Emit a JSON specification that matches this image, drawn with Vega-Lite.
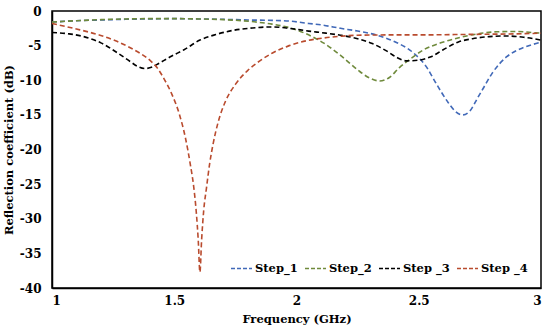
{
  "$schema": "https://vega.github.io/schema/vega-lite/v6.json",
  "width": 489,
  "height": 277,
  "autosize": "none",
  "padding": {"left": 52, "top": 11, "right": 9, "bottom": 46},
  "background": "white",
  "config": {
    "view": {"stroke": "black", "strokeWidth": 1.5},
    "font": "DejaVu Serif",
    "axis": {"labelFont": "DejaVu Serif", "titleFont": "DejaVu Serif", "labelFontWeight": "bold", "titleFontWeight": "bold", "labelColor": "black", "titleColor": "black", "labelFontSize": 12, "titleFontSize": 11.5, "grid": false, "ticks": false, "domainColor": "black", "domainWidth": 1.5},
    "legend": {"labelFont": "DejaVu Serif", "labelFontWeight": "bold", "labelFontSize": 11.5, "labelColor": "black"}
  },
  "data": {"values": [
    {"s":"Step_1","f":1.0,"r":-1.6},{"s":"Step_1","f":1.1,"r":-1.4},{"s":"Step_1","f":1.2,"r":-1.3},{"s":"Step_1","f":1.3,"r":-1.2},{"s":"Step_1","f":1.4,"r":-1.15},{"s":"Step_1","f":1.5,"r":-1.1},{"s":"Step_1","f":1.6,"r":-1.15},{"s":"Step_1","f":1.7,"r":-1.2},{"s":"Step_1","f":1.8,"r":-1.3},{"s":"Step_1","f":1.9,"r":-1.35},{"s":"Step_1","f":1.97,"r":-1.45},{"s":"Step_1","f":2.05,"r":-1.8},{"s":"Step_1","f":2.1,"r":-2.0},{"s":"Step_1","f":2.18,"r":-2.5},{"s":"Step_1","f":2.25,"r":-2.9},{"s":"Step_1","f":2.33,"r":-3.5},{"s":"Step_1","f":2.4,"r":-4.4},{"s":"Step_1","f":2.48,"r":-6.1},{"s":"Step_1","f":2.53,"r":-8.0},{"s":"Step_1","f":2.57,"r":-10.4},{"s":"Step_1","f":2.62,"r":-13.2},{"s":"Step_1","f":2.65,"r":-14.5},{"s":"Step_1","f":2.68,"r":-15.0},{"s":"Step_1","f":2.71,"r":-14.4},{"s":"Step_1","f":2.74,"r":-12.6},{"s":"Step_1","f":2.76,"r":-11.4},{"s":"Step_1","f":2.8,"r":-9.0},{"s":"Step_1","f":2.86,"r":-6.6},{"s":"Step_1","f":2.92,"r":-5.4},{"s":"Step_1","f":2.96,"r":-4.9},{"s":"Step_1","f":3.0,"r":-4.5},
    {"s":"Step_2","f":1.0,"r":-1.6},{"s":"Step_2","f":1.1,"r":-1.4},{"s":"Step_2","f":1.2,"r":-1.25},{"s":"Step_2","f":1.3,"r":-1.15},{"s":"Step_2","f":1.4,"r":-1.1},{"s":"Step_2","f":1.5,"r":-1.1},{"s":"Step_2","f":1.6,"r":-1.15},{"s":"Step_2","f":1.7,"r":-1.25},{"s":"Step_2","f":1.81,"r":-1.5},{"s":"Step_2","f":1.9,"r":-1.9},{"s":"Step_2","f":1.97,"r":-2.4},{"s":"Step_2","f":2.04,"r":-3.3},{"s":"Step_2","f":2.11,"r":-4.6},{"s":"Step_2","f":2.18,"r":-6.4},{"s":"Step_2","f":2.25,"r":-8.5},{"s":"Step_2","f":2.3,"r":-9.7},{"s":"Step_2","f":2.34,"r":-10.1},{"s":"Step_2","f":2.38,"r":-9.6},{"s":"Step_2","f":2.42,"r":-8.2},{"s":"Step_2","f":2.47,"r":-6.8},{"s":"Step_2","f":2.52,"r":-5.6},{"s":"Step_2","f":2.59,"r":-4.6},{"s":"Step_2","f":2.66,"r":-3.9},{"s":"Step_2","f":2.74,"r":-3.3},{"s":"Step_2","f":2.82,"r":-3.0},{"s":"Step_2","f":2.9,"r":-2.95},{"s":"Step_2","f":2.96,"r":-3.1},{"s":"Step_2","f":3.0,"r":-3.2},
    {"s":"Step _3","f":1.0,"r":-3.1},{"s":"Step _3","f":1.07,"r":-3.3},{"s":"Step _3","f":1.13,"r":-3.7},{"s":"Step _3","f":1.2,"r":-4.6},{"s":"Step _3","f":1.27,"r":-6.1},{"s":"Step _3","f":1.32,"r":-7.3},{"s":"Step _3","f":1.35,"r":-8.0},{"s":"Step _3","f":1.38,"r":-8.3},{"s":"Step _3","f":1.41,"r":-8.1},{"s":"Step _3","f":1.44,"r":-7.5},{"s":"Step _3","f":1.49,"r":-6.5},{"s":"Step _3","f":1.54,"r":-5.6},{"s":"Step _3","f":1.605,"r":-4.2},{"s":"Step _3","f":1.67,"r":-3.4},{"s":"Step _3","f":1.74,"r":-2.8},{"s":"Step _3","f":1.82,"r":-2.45},{"s":"Step _3","f":1.9,"r":-2.3},{"s":"Step _3","f":1.97,"r":-2.5},{"s":"Step _3","f":2.05,"r":-2.9},{"s":"Step _3","f":2.12,"r":-3.2},{"s":"Step _3","f":2.18,"r":-3.5},{"s":"Step _3","f":2.25,"r":-4.0},{"s":"Step _3","f":2.31,"r":-4.7},{"s":"Step _3","f":2.37,"r":-5.8},{"s":"Step _3","f":2.41,"r":-6.7},{"s":"Step _3","f":2.45,"r":-7.2},{"s":"Step _3","f":2.5,"r":-7.1},{"s":"Step _3","f":2.55,"r":-6.6},{"s":"Step _3","f":2.6,"r":-5.6},{"s":"Step _3","f":2.66,"r":-4.5},{"s":"Step _3","f":2.72,"r":-4.0},{"s":"Step _3","f":2.79,"r":-3.7},{"s":"Step _3","f":2.86,"r":-3.6},{"s":"Step _3","f":2.93,"r":-3.8},{"s":"Step _3","f":3.0,"r":-4.2},
    {"s":"Step _4","f":1.0,"r":-1.8},{"s":"Step _4","f":1.1,"r":-2.6},{"s":"Step _4","f":1.196,"r":-3.5},{"s":"Step _4","f":1.26,"r":-4.3},{"s":"Step _4","f":1.32,"r":-5.3},{"s":"Step _4","f":1.36,"r":-6.1},{"s":"Step _4","f":1.4,"r":-7.1},{"s":"Step _4","f":1.43,"r":-8.2},{"s":"Step _4","f":1.46,"r":-9.9},{"s":"Step _4","f":1.49,"r":-12.0},{"s":"Step _4","f":1.52,"r":-14.8},{"s":"Step _4","f":1.545,"r":-18.2},{"s":"Step _4","f":1.565,"r":-22},{"s":"Step _4","f":1.58,"r":-25.5},{"s":"Step _4","f":1.59,"r":-29},{"s":"Step _4","f":1.598,"r":-33},{"s":"Step _4","f":1.605,"r":-37.7},{"s":"Step _4","f":1.612,"r":-33},{"s":"Step _4","f":1.62,"r":-29},{"s":"Step _4","f":1.632,"r":-25.5},{"s":"Step _4","f":1.645,"r":-22},{"s":"Step _4","f":1.66,"r":-19},{"s":"Step _4","f":1.68,"r":-16},{"s":"Step _4","f":1.71,"r":-13},{"s":"Step _4","f":1.75,"r":-10.6},{"s":"Step _4","f":1.8,"r":-8.6},{"s":"Step _4","f":1.85,"r":-7.2},{"s":"Step _4","f":1.9,"r":-6.1},{"s":"Step _4","f":1.97,"r":-5.0},{"s":"Step _4","f":2.04,"r":-4.3},{"s":"Step _4","f":2.11,"r":-3.9},{"s":"Step _4","f":2.18,"r":-3.65},{"s":"Step _4","f":2.25,"r":-3.5},{"s":"Step _4","f":2.4,"r":-3.45},{"s":"Step _4","f":2.52,"r":-3.45},{"s":"Step _4","f":2.65,"r":-3.4},{"s":"Step _4","f":2.79,"r":-3.35},{"s":"Step _4","f":2.9,"r":-3.3},{"s":"Step _4","f":3.0,"r":-3.2}
  ]},
  "mark": {"type": "line", "interpolate": "monotone", "strokeWidth": 1.6, "strokeDash": [5, 3]},
  "encoding": {
    "x": {"field": "f", "type": "quantitative", "scale": {"domain": [1, 3], "nice": false}, "axis": {"values": [1, 1.5, 2, 2.5, 3], "title": "Frequency (GHz)", "labelPadding": 7, "titlePadding": 7, "labelExpr": "'' + datum.value"}},
    "y": {"field": "r", "type": "quantitative", "scale": {"domain": [-40, 0], "nice": false}, "axis": {"values": [0, -5, -10, -15, -20, -25, -30, -35, -40], "title": "Reflection coefficient (dB)", "labelPadding": 11, "titlePadding": 5, "labelExpr": "'' + datum.value"}},
    "color": {"field": "s", "type": "nominal", "scale": {"domain": ["Step_1", "Step_2", "Step _3", "Step _4"], "range": ["#4169B8", "#6F8A3C", "#000000", "#B94B2E"]},
      "legend": {"title": null, "orient": "none", "legendX": 178, "legendY": 246, "direction": "horizontal", "symbolType": "stroke", "symbolSize": 441, "symbolStrokeWidth": 1.6, "symbolDash": [4, 2], "columnPadding": 3, "labelOffset": 2}}
  }
}
